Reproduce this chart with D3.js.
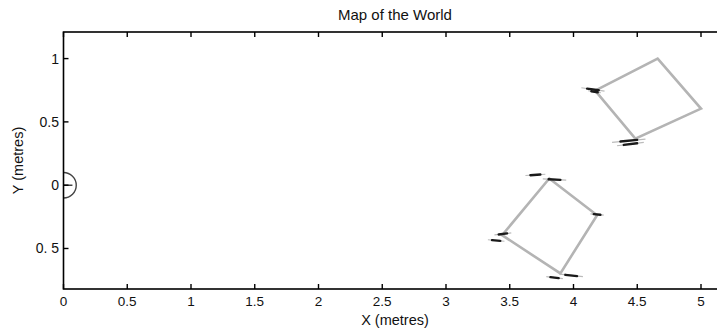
<!DOCTYPE html>
<html><head><meta charset="utf-8">
<script src="https://cdn.jsdelivr.net/npm/d3@7"></script>
<style>body{margin:0;background:#fff;overflow:hidden;} text{font-family:"Liberation Sans",Arial,sans-serif;fill:#111;}</style>
</head><body>
<svg id="c" width="717" height="330"></svg>
<script>
const title = "Map of the World";
const xLabel = "X (metres)";
const yLabel = "Y (metres)";
const xTicks = [0,0.5,1,1.5,2,2.5,3,3.5,4,4.5,5];
const xTickLabels = ["0","0.5","1","1.5","2","2.5","3","3.5","4","4.5","5"];
const yTicks = [-0.5,0,0.5,1];
const yTickLabels = ["0. 5","0","0.5","1"];
const xDomain = [0,5.2];
const yDomain = [-0.82,1.21];
// robot pose at origin
const robot = {x:0, y:0, r:0.1, heading:0.07};
// walls (rectangles) as closed polygons
const squareA = [[4.66,1.0],[5.0,0.605],[4.485,0.368],[4.17,0.747]];
const squareB = [[3.81,0.053],[4.185,-0.237],[3.897,-0.697],[3.44,-0.395]];
// observed landmark segments [x1,y1,x2,y2]
const marks = [
 [4.107,0.763,4.198,0.750],[4.14,0.742,4.19,0.734],
 [4.368,0.345,4.499,0.358],[4.394,0.318,4.499,0.331],
 [3.662,0.079,3.740,0.084],[3.805,0.047,3.897,0.042],
 [3.413,-0.389,3.479,-0.381],[3.361,-0.434,3.426,-0.44],
 [3.936,-0.708,4.028,-0.718],[3.819,-0.726,3.884,-0.734],
 [4.159,-0.229,4.211,-0.234]
];

const svg = d3.select("#c");
const L=63.5, T=32, B=289;
const unit = 127.5;
const R = L + (xDomain[1]-xDomain[0])*unit;
const x = d3.scaleLinear().domain(xDomain).range([L,R]);
const y = d3.scaleLinear().domain(yDomain).range([B,T]);
const cx = (L+R)/2;

svg.append("defs").append("clipPath").attr("id","clip")
  .append("rect").attr("x",L).attr("y",T).attr("width",R-L).attr("height",B-T);

const g = svg.append("g").attr("clip-path","url(#clip)");
const line = d3.line().x(d=>x(d[0])).y(d=>y(d[1])).curve(d3.curveLinearClosed);
[squareA,squareB].forEach(sq=>{
  g.append("path").attr("d",line(sq)).attr("fill","none")
   .attr("stroke","#b4b4b4").attr("stroke-width",2.6).attr("stroke-linejoin","miter");
});
marks.forEach(m=>{
  const dx=m[2]-m[0], dy=m[3]-m[1];
  g.append("line").attr("x1",x(m[0]-dx*0.5)).attr("y1",y(m[1]-dy*0.5))
   .attr("x2",x(m[2]+dx*0.5)).attr("y2",y(m[3]+dy*0.5))
   .attr("stroke","#bbb").attr("stroke-width",1.2);
  g.append("line").attr("x1",x(m[0])).attr("y1",y(m[1])).attr("x2",x(m[2])).attr("y2",y(m[3]))
   .attr("stroke","#1a1a1a").attr("stroke-width",2.4).attr("stroke-linecap","round");
});
const pxPerUnit = x(1)-x(0);
g.append("circle").attr("cx",x(robot.x)).attr("cy",y(robot.y)).attr("r",robot.r*pxPerUnit)
 .attr("fill","none").attr("stroke","#444").attr("stroke-width",1.4);
g.append("line").attr("x1",x(robot.x)).attr("y1",y(robot.y))
 .attr("x2",x(robot.x+robot.heading)).attr("y2",y(robot.y))
 .attr("stroke","#444").attr("stroke-width",1.4);

svg.append("rect").attr("x",L).attr("y",T).attr("width",R-L).attr("height",B-T)
 .attr("fill","none").attr("stroke","#000").attr("stroke-width",1.6);

const tk=5;
const ax = svg.append("g");
xTicks.forEach((v,i)=>{
  ax.append("line").attr("x1",x(v)).attr("x2",x(v)).attr("y1",B).attr("y2",B-tk).attr("stroke","#000").attr("stroke-width",1.4);
  ax.append("line").attr("x1",x(v)).attr("x2",x(v)).attr("y1",T).attr("y2",T+tk).attr("stroke","#000").attr("stroke-width",1.4);
  ax.append("text").attr("x",x(v)).attr("y",B+17).attr("text-anchor","middle")
   .attr("font-size",13.5).text(xTickLabels[i]);
});
yTicks.forEach((v,i)=>{
  ax.append("line").attr("x1",L).attr("x2",L+tk).attr("y1",y(v)).attr("y2",y(v)).attr("stroke","#000").attr("stroke-width",1.4);
  ax.append("text").attr("x",L-4.5).attr("y",y(v)+5).attr("text-anchor","end")
   .attr("font-size",14).text(yTickLabels[i]);
});
svg.append("text").attr("x",cx).attr("y",20).attr("text-anchor","middle").attr("font-size",15).text(title);
svg.append("text").attr("x",cx).attr("y",325).attr("text-anchor","middle").attr("font-size",14.5).text(xLabel);
svg.append("text").attr("transform",`translate(23,${(T+B)/2}) rotate(-90)`).attr("text-anchor","middle").attr("font-size",14.5).text(yLabel);
</script>
</body></html>
